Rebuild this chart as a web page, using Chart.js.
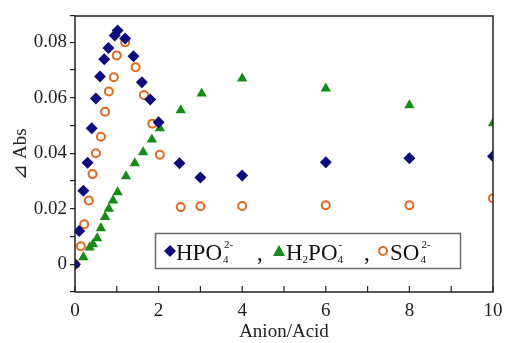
<!DOCTYPE html>
<html>
<head>
<meta charset="utf-8">
<script src="https://cdn.jsdelivr.net/npm/chart.js@4.4.1/dist/chart.umd.min.js"></script>
<style>
html, body { margin: 0; padding: 0; background: #fff; }
</style>
</head>
<body>
<canvas id="mycanvas" width="505" height="343"></canvas>
<script>
// values
var hpoX  = [0, 0.1, 0.2, 0.3, 0.4, 0.5, 0.6, 0.7, 0.8, 0.95, 1.02, 1.2, 1.4, 1.6, 1.8, 2, 2.5, 3, 4, 6, 8, 10];
var hpoY  = [0, 0.012, 0.0265, 0.0366, 0.049, 0.0598, 0.0677, 0.0739, 0.078, 0.0825, 0.0843, 0.0814, 0.075, 0.0656, 0.0594, 0.0512, 0.0364, 0.0313, 0.032, 0.0368, 0.0382, 0.0389];

var h2poX = [0, 0.2, 0.35, 0.43, 0.53, 0.62, 0.72, 0.81, 0.91, 1.02, 1.22, 1.43, 1.63, 1.84, 2.03, 2.53, 3.03, 4, 6, 8, 10];
var h2poY = [0, 0.0025, 0.006, 0.0072, 0.0094, 0.013, 0.017, 0.020, 0.023, 0.026, 0.0317, 0.0364, 0.0404, 0.045, 0.049, 0.0555, 0.0616, 0.067, 0.0634, 0.0573, 0.0508];

var so4X  = [0, 0.14, 0.22, 0.33, 0.42, 0.5, 0.62, 0.72, 0.81, 0.93, 1.0, 1.2, 1.45, 1.65, 1.85, 2.03, 2.53, 3, 4, 6, 8, 10];
var so4Y  = [0, 0.0065, 0.0144, 0.023, 0.0325, 0.040, 0.046, 0.055, 0.0623, 0.0674, 0.0753, 0.080, 0.071, 0.061, 0.0507, 0.0395, 0.0206, 0.0209, 0.021, 0.0213, 0.0213, 0.0238];

var navy = '#0c0c7c';
var green = '#178a17';
var orange = '#e2681e';
var serif = '"Liberation Serif", "Times New Roman", serif';

function pts(xs, ys) {
  var out = [];
  for (var i in xs) {
    out.push({x: xs[i], y: ys[i]});
  }
  return out;
}

// frame, inward x ticks, and the legend box
var extras = {
  id: 'extras',
  afterDraw: function(chart) {
    var ctx = chart.ctx;
    var a = chart.chartArea;
    var xs = chart.scales.x;
    ctx.save();
    ctx.strokeStyle = '#222';
    ctx.lineWidth = 1.5;
    ctx.strokeRect(a.left, a.top, a.right - a.left, a.bottom - a.top);
    ctx.lineWidth = 1.2;
    for (var v = 0; v <= 10; v++) {
      var px = xs.getPixelForValue(v);
      ctx.beginPath();
      ctx.moveTo(px, a.bottom);
      ctx.lineTo(px, a.bottom - 6);
      ctx.stroke();
    }

    // legend
    ctx.strokeStyle = '#6a6a6a';
    ctx.lineWidth = 1.5;
    ctx.strokeRect(155.5, 233.5, 305, 35);
    var base = 260;
    ctx.fillStyle = '#111';
    ctx.textBaseline = 'alphabetic';
    ctx.textAlign = 'left';
    function big(t, x) {
      ctx.font = '23px ' + serif;
      ctx.fillText(t, x, base);
      return x + ctx.measureText(t).width;
    }
    function subsup(sb, sp, x) {
      var w = 0;
      ctx.font = '11px ' + serif;
      if (sb) { ctx.fillText(sb, x, base + 3); w = ctx.measureText(sb).width; }
      if (sp) { ctx.fillText(sp, x + 1, base - 12); w = Math.max(w, ctx.measureText(sp).width + 1); }
      return x + w;
    }
    // diamond
    ctx.fillStyle = navy;
    ctx.beginPath();
    ctx.moveTo(170, 245); ctx.lineTo(176, 251); ctx.lineTo(170, 257); ctx.lineTo(164, 251);
    ctx.closePath(); ctx.fill();
    ctx.fillStyle = '#111';
    var x = big('HPO', 176);
    x = subsup('4', '2-', x + 1);
    big(',', 257);
    // triangle
    ctx.fillStyle = green;
    ctx.beginPath();
    ctx.moveTo(279, 245); ctx.lineTo(285, 256); ctx.lineTo(273, 256);
    ctx.closePath(); ctx.fill();
    ctx.fillStyle = '#111';
    x = big('H', 286);
    x = subsup('2', '', x);
    x = big('PO', x);
    x = subsup('4', '-', x);
    big(',', 364);
    // circle
    ctx.strokeStyle = orange;
    ctx.lineWidth = 2;
    ctx.beginPath();
    ctx.arc(383, 251, 4, 0, Math.PI * 2);
    ctx.stroke();
    x = big('SO', 390);
    subsup('4', '2-', x + 1);
    ctx.restore();
  }
};

var chartdata = {
  datasets: [
    {
      label: 'HPO4 2-',
      data: pts(hpoX, hpoY),
      pointStyle: 'rectRot',
      pointRadius: 6,
      backgroundColor: navy,
      borderColor: navy,
      borderWidth: 0
    },
    {
      label: 'H2PO4 -',
      data: pts(h2poX, h2poY),
      pointStyle: 'triangle',
      pointRadius: 6,
      backgroundColor: green,
      borderColor: green,
      borderWidth: 0
    },
    {
      label: 'SO4 2-',
      data: pts(so4X, so4Y),
      pointStyle: 'circle',
      pointRadius: 4,
      backgroundColor: '#fff',
      borderColor: orange,
      borderWidth: 2
    }
  ]
};

var ctx = document.getElementById('mycanvas');

var scatter = new Chart(ctx, {
  type: 'scatter',
  data: chartdata,
  options: {
    responsive: false,
    animation: false,
    layout: { padding: { top: 16, right: 12, left: 0, bottom: 0 } },
    plugins: {
      legend: { display: false },
      tooltip: { enabled: false }
    },
    scales: {
      x: {
        type: 'linear',
        min: 0,
        max: 10,
        border: { display: false },
        grid: { display: false, drawTicks: false },
        ticks: {
          stepSize: 1,
          padding: 8,
          color: '#222',
          font: { family: serif, size: 19 },
          maxRotation: 0,
          callback: function(v) { return (v % 2 === 0) ? String(v) : ''; }
        },
        title: {
          display: true,
          text: 'Anion/Acid',
          color: '#222',
          font: { family: serif, size: 19 },
          padding: { top: 0, bottom: 0 }
        },
        afterFit: function(s) { s.height = 51; s.paddingLeft = 0; s.paddingRight = 0; }
      },
      y: {
        min: -0.01,
        max: 0.0895,
        border: { display: false },
        grid: { drawOnChartArea: false, drawTicks: true, tickLength: 5, color: '#222', lineWidth: 1.2 },
        ticks: {
          stepSize: 0.01,
          padding: 3,
          color: '#222',
          font: { family: serif, size: 19 },
          callback: function(v) {
            var k = Math.round(v * 100);
            if (k < 0 || k % 2 !== 0 || v > 0.085) return '';
            return k === 0 ? '0' : (k / 100).toFixed(2);
          }
        },
        title: {
          display: true,
          text: '\u22BF Abs',
          color: '#222',
          font: { family: serif, size: 19 },
          padding: { top: 10, bottom: 0 }
        },
        afterFit: function(s) { s.width = 75; s.paddingTop = 0; s.paddingBottom = 0; }
      }
    }
  },
  plugins: [extras]
});
</script>
</body>
</html>
